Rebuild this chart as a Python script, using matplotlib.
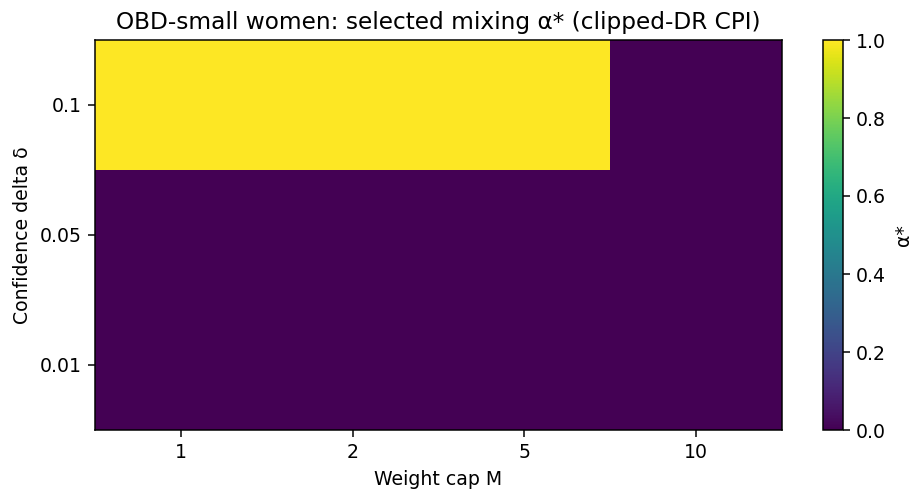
import numpy as np
import matplotlib
matplotlib.use("Agg")
import matplotlib.pyplot as plt

weight_caps = ["1", "2", "5", "10"]
deltas = ["0.01", "0.05", "0.1"]
# selected alpha* per (delta, M); rows ordered as deltas
alpha_star = np.array([
    [0.0, 0.0, 0.0, 0.0],
    [0.0, 0.0, 0.0, 0.0],
    [1.0, 1.0, 1.0, 0.0],
])

W, H, DPI = 914, 493, 136
fig = plt.figure(figsize=(W / DPI, H / DPI), dpi=DPI)
ax = fig.add_axes([95 / W, 1 - 430 / H, (782 - 95) / W, (430 - 40) / H])
cax = fig.add_axes([823 / W, 1 - 430 / H, 20 / W, (430 - 40) / H])

im = ax.imshow(alpha_star, origin="lower", aspect="auto", cmap="viridis",
               vmin=0, vmax=1)
ax.set_xticks(range(len(weight_caps)))
ax.set_xticklabels(weight_caps)
ax.set_yticks(range(len(deltas)))
ax.set_yticklabels(deltas)
ax.set_xlabel("Weight cap M")
ax.set_ylabel("Confidence delta δ")
ax.set_title("OBD-small women: selected mixing α* (clipped-DR CPI)", fontsize=12.3)

cb = fig.colorbar(im, cax=cax)
cb.set_label("α*")

fig.savefig("out.png", dpi=DPI)
